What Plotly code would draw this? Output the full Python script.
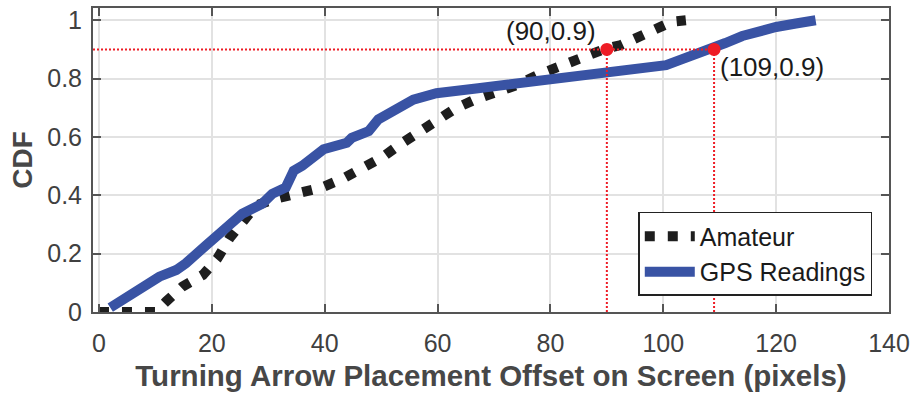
import plotly.graph_objects as go

# ---- data ----
amateur_x = [0, 10, 11.9, 14.8, 18.4, 21.0, 23.1, 25.4, 27.8, 31.3, 35.7, 39.5, 43.1,
             46.6, 50.1, 53.4, 56.6, 59.8, 63.1, 66.6, 70.5, 74.2, 77.8, 81.3, 84.8,
             89.8, 92.5, 96.3, 99.5, 101.5, 104]
amateur_y = [0, 0, 0.036, 0.087, 0.127, 0.184, 0.252, 0.314, 0.365, 0.388, 0.405, 0.427,
             0.456, 0.49, 0.529, 0.575, 0.614, 0.654, 0.697, 0.728, 0.75, 0.779, 0.813,
             0.841, 0.864, 0.903, 0.915, 0.949, 0.985, 0.995, 1.0]

gps_x = [2, 4.8, 8.9, 10.7, 13.7, 15.4, 19.0, 22.6, 25.4, 28.9, 30.7, 33.1, 34.5, 36.0,
         37.2, 39.8, 43.9, 44.8, 47.8, 49.5, 55.7, 59.8, 67.2, 80, 90.1, 97.5, 100.5,
         103, 105.5, 108.3, 111, 114, 117, 120, 123.5, 127]
gps_y = [0.015, 0.048, 0.099, 0.121, 0.144, 0.167, 0.229, 0.29, 0.337, 0.371, 0.405,
         0.427, 0.484, 0.501, 0.518, 0.558, 0.580, 0.597, 0.62, 0.66, 0.728, 0.75, 0.767,
         0.795, 0.818, 0.834, 0.846, 0.864, 0.881, 0.898, 0.922, 0.946, 0.964, 0.977,
         0.989, 1.0]

mark_x = [90, 109]
mark_y = [0.9, 0.9]
mark_labels = ["(90,0.9)", "(109,0.9)"]

x_ticks = [0, 20, 40, 60, 80, 100, 120, 140]
y_ticks = [0, 0.2, 0.4, 0.6, 0.8, 1]
y_tick_labels = ["0", "0.2", "0.4", "0.6", "0.8", "1"]

x_range = [-1.06, 140]
y_range = [0, 1.042]

# ---- styles ----
BLUE = "#3953a4"
BLACK = "#1e1e1e"
RED = "#ee1c25"
AXIS = "#555555"
GRID = "#e2e2e2"
TEXT = "#404040"
FONT = "Liberation Sans, Arial, Helvetica, sans-serif"

fig = go.Figure()

fig.add_trace(go.Scatter(
    x=amateur_x, y=amateur_y, mode="lines", name="Amateur",
    line=dict(color=BLACK, width=10, dash="10px,13px"),
))
fig.add_trace(go.Scatter(
    x=gps_x, y=gps_y, mode="lines", name="GPS Readings",
    line=dict(color=BLUE, width=10),
))

# red guide lines (horizontal at y=0.9 from left axis to last marker, verticals down to 0)
fig.add_trace(go.Scatter(
    x=[x_range[0], max(mark_x)], y=[mark_y[0], mark_y[0]], mode="lines",
    line=dict(color=RED, width=2, dash="2px,2px"), showlegend=False, hoverinfo="skip",
))
for mx, my in zip(mark_x, mark_y):
    fig.add_trace(go.Scatter(
        x=[mx, mx], y=[0, my], mode="lines",
        line=dict(color=RED, width=2, dash="2px,2px"), showlegend=False, hoverinfo="skip",
    ))
fig.add_trace(go.Scatter(
    x=mark_x, y=mark_y, mode="markers",
    marker=dict(color=RED, size=13, line=dict(width=0)), showlegend=False,
))

# labels for markers
label_pos = [(80.1, 0.964), (119.2, 0.841)]
for (lx, ly), txt in zip(label_pos, mark_labels):
    fig.add_annotation(x=lx, y=ly, text=txt, showarrow=False,
                       font=dict(family=FONT, size=26, color="#1a1a1a"),
                       xanchor="center", yanchor="middle")

fig.update_layout(
    width=916, height=395,
    margin=dict(l=93, r=23, t=6, b=83),
    paper_bgcolor="white", plot_bgcolor="white",
    font=dict(family=FONT, color=TEXT),
    legend=dict(
        x=0.979, y=0.053, xanchor="right", yanchor="bottom",
        bgcolor="white", bordercolor="#222222", borderwidth=1.5,
        font=dict(family=FONT, size=25, color="#1a1a1a"),
        tracegroupgap=0, itemwidth=50,
    ),
)

fig.update_xaxes(
    range=x_range, tickvals=x_ticks,
    showgrid=True, gridcolor=GRID, gridwidth=1.5,
    showline=True, linecolor=AXIS, linewidth=2, mirror="allticks",
    ticks="inside", ticklen=8, tickwidth=2, tickcolor=AXIS,
    tickfont=dict(family=FONT, size=25, color=TEXT),
    ticklabelstandoff=8,
    zeroline=False,
    title=dict(text="<b>Turning Arrow Placement Offset on Screen (pixels)</b>",
               font=dict(family=FONT, size=29.5, color="#474747"), standoff=9),
)
fig.update_yaxes(
    range=y_range, tickvals=y_ticks, ticktext=y_tick_labels,
    showgrid=True, gridcolor=GRID, gridwidth=1.5,
    showline=True, linecolor=AXIS, linewidth=2, mirror="allticks",
    ticks="inside", ticklen=8, tickwidth=2, tickcolor=AXIS,
    tickfont=dict(family=FONT, size=25, color=TEXT),
    ticklabelstandoff=4,
    zeroline=False,
    title=dict(text="<b>CDF</b>", font=dict(family=FONT, size=28, color="#474747"),
               standoff=6),
)

fig.write_html("out.html")
